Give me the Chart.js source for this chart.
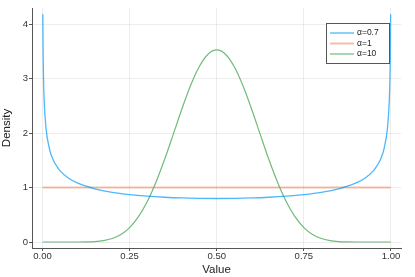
<!DOCTYPE html>
<html>
<head>
<meta charset="utf-8">
<script src="https://cdn.jsdelivr.net/npm/chart.js@4"></script>
<style>
  html, body { margin: 0; padding: 0; background: #fff; }
  #wrap { width: 415px; height: 277px; }
</style>
</head>
<body>
<div id="wrap"><canvas id="chart"></canvas></div>
<script>
// values
const xs07 = [0.001, 0.002, 0.003, 0.005, 0.01, 0.02, 0.03, 0.04, 0.05, 0.075, 0.1, 0.15, 0.2, 0.25, 0.3, 0.35, 0.4, 0.45, 0.5,
              0.55, 0.6, 0.65, 0.7, 0.75, 0.8, 0.85, 0.9, 0.925, 0.95, 0.96, 0.97, 0.98, 0.99, 0.995, 0.997, 0.998, 0.999];
const ys07 = [4.18, 3.40, 3.01, 2.58, 2.10, 1.71, 1.52, 1.40, 1.31, 1.17, 1.084, 0.977, 0.912, 0.870, 0.841, 0.821, 0.808, 0.801, 0.798,
              0.801, 0.808, 0.821, 0.841, 0.870, 0.912, 0.977, 1.084, 1.17, 1.31, 1.40, 1.52, 1.71, 2.10, 2.58, 3.01, 3.40, 4.18];
const xs1 = [0.001, 0.999];
const ys1 = [1, 1];
const xs10 = [0.001, 0.05, 0.1, 0.125, 0.15, 0.175, 0.2, 0.225, 0.25, 0.275, 0.3, 0.325, 0.35, 0.375, 0.4, 0.425, 0.45, 0.475, 0.5,
              0.525, 0.55, 0.575, 0.6, 0.625, 0.65, 0.675, 0.7, 0.725, 0.75, 0.775, 0.8, 0.825, 0.85, 0.875, 0.9, 0.95, 0.999];
const ys10 = [0, 0, 0.0004, 0.0021, 0.0082, 0.0252, 0.0635, 0.1377, 0.2646, 0.4598, 0.7338, 1.087, 1.508, 1.971, 2.440, 2.871, 3.219, 3.446, 3.524,
              3.446, 3.219, 2.871, 2.440, 1.971, 1.508, 1.087, 0.7338, 0.4598, 0.2646, 0.1377, 0.0635, 0.0252, 0.0082, 0.0021, 0.0004, 0, 0];
const labels = ['α=0.7', 'α=1', 'α=10'];
const xTicks = [0, 0.25, 0.5, 0.75, 1];
const yTicks = [0, 1, 2, 3, 4];

const FONT = '"Liberation Sans", Arial, sans-serif';
const toPts = (xs, ys) => xs.map((x, i) => ({ x: x, y: ys[i] }));

// legend box drawn inside the plot, top right
const insideLegend = {
    id: 'insideLegend',
    afterDraw(chart) {
        const ctx = chart.ctx;
        const x0 = 326, y0 = 23, w = 63, h = 40;
        ctx.save();
        ctx.fillStyle = '#fff';
        ctx.fillRect(x0, y0, w, h);
        ctx.strokeStyle = '#555';
        ctx.lineWidth = 1;
        ctx.strokeRect(x0 + 0.5, y0 + 0.5, w, h);
        ctx.font = '8.5px ' + FONT;
        ctx.textBaseline = 'middle';
        chart.data.datasets.forEach((ds, i) => {
            const y = y0 + 10 + i * 10.5;
            ctx.strokeStyle = ds.borderColor;
            ctx.lineWidth = ds.borderWidth;
            ctx.beginPath();
            ctx.moveTo(x0 + 4, y);
            ctx.lineTo(x0 + 28, y);
            ctx.stroke();
            ctx.fillStyle = '#222';
            ctx.fillText(ds.label, x0 + 31, y);
        });
        ctx.restore();
    }
};

new Chart(document.getElementById('chart'), {
    type: 'line',
    data: {
        datasets: [{
            label: labels[0],
            data: toPts(xs07, ys07),
            borderColor: 'rgba(0, 154, 250, 0.7)',
            borderWidth: 1.3,
            cubicInterpolationMode: 'monotone'
        }, {
            label: labels[1],
            data: toPts(xs1, ys1),
            borderColor: 'rgba(227, 111, 71, 0.45)',
            borderWidth: 2,
        }, {
            label: labels[2],
            data: toPts(xs10, ys10),
            borderColor: 'rgba(62, 164, 78, 0.75)',
            borderWidth: 1.2,
            cubicInterpolationMode: 'monotone'
        }]
    },
    options: {
        responsive: true,
        maintainAspectRatio: false,
        animation: false,
        elements: { point: { radius: 0 } },
        layout: { padding: { top: 8, right: 14, left: 0, bottom: 0 } },
        plugins: {
            legend: { display: false },
            tooltip: { enabled: false }
        },
        scales: {
            x: {
                type: 'linear',
                min: -0.030,
                max: 1.0287,
                afterBuildTicks: s => { s.ticks = xTicks.map(v => ({ value: v })); },
                afterFit: s => { s.height = 29; },
                ticks: {
                    color: '#333',
                    font: { size: 9.5, family: FONT },
                    padding: 0,
                    maxRotation: 0,
                    callback: v => v.toFixed(2)
                },
                grid: { color: 'rgba(0,0,0,0.07)', tickColor: '#555', tickLength: 3 },
                border: { color: '#555' },
                title: { display: true, text: 'Value', color: '#222', font: { size: 11.5, family: FONT }, padding: 0 }
            },
            y: {
                min: -0.11,
                max: 4.294,
                afterBuildTicks: s => { s.ticks = yTicks.map(v => ({ value: v })); },
                afterFit: s => { s.width = 32; },
                ticks: {
                    color: '#333',
                    font: { size: 9.5, family: FONT },
                    padding: 1,
                    callback: v => String(v)
                },
                grid: { color: 'rgba(0,0,0,0.07)', tickColor: '#555', tickLength: 3 },
                border: { color: '#555' },
                title: { display: true, text: 'Density', color: '#222', font: { size: 11.5, family: FONT }, padding: 0 }
            }
        }
    },
    plugins: [insideLegend]
});
</script>
</body>
</html>
